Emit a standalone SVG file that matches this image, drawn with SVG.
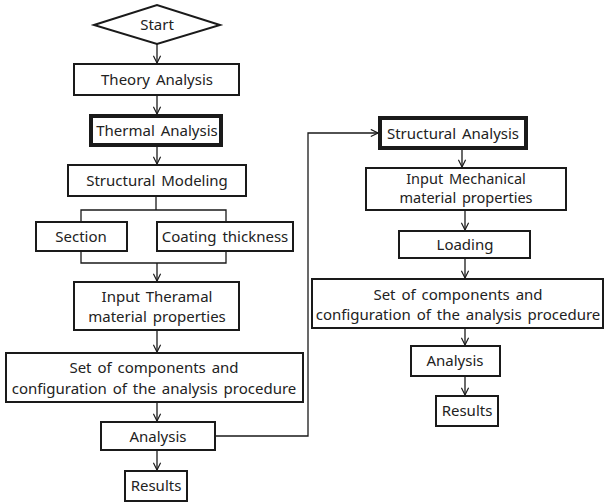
<svg xmlns="http://www.w3.org/2000/svg" width="605" height="502" viewBox="0 0 605 502">
<style>
.b{fill:#fff;stroke:#1a1a1a;stroke-width:2}
.t{fill:#fff;stroke:#1a1a1a;stroke-width:4}
text{font-family:"Noto Sans","Open Sans",sans-serif;font-size:15px;fill:#222;text-anchor:middle;word-spacing:2px}
.s{font-size:14.5px}
.c{fill:none;stroke:#1a1a1a;stroke-width:1.3}
</style>
<defs>
<marker id="a" viewBox="0 0 10 10" refX="9" refY="5" markerWidth="9" markerHeight="9" markerUnits="userSpaceOnUse" orient="auto">
<path d="M1,1 L9,5 L1,9" fill="none" stroke="#1a1a1a" stroke-width="1.3"/>
</marker>
</defs>
<rect width="605" height="502" fill="#fff"/>
<g id="connectors">
<path class="c" d="M157,44 V63" marker-end="url(#a)"/>
<path class="c" d="M157,95 V114" marker-end="url(#a)"/>
<path class="c" d="M157,146 V164" marker-end="url(#a)"/>
<path class="c" d="M156,196 V210 M81,222 V210 H226 V222 M81,251 V263 H226 V251"/>
<path class="c" d="M157,263 V281" marker-end="url(#a)"/>
<path class="c" d="M157,330 V352" marker-end="url(#a)"/>
<path class="c" d="M157,402 V421" marker-end="url(#a)"/>
<path class="c" d="M157,450 V470" marker-end="url(#a)"/>
<path class="c" d="M215,436 H308 V133 H378" marker-end="url(#a)"/>
<path class="c" d="M462,149 V167" marker-end="url(#a)"/>
<path class="c" d="M465,210 V230" marker-end="url(#a)"/>
<path class="c" d="M465,258 V278" marker-end="url(#a)"/>
<path class="c" d="M465,328 V345" marker-end="url(#a)"/>
<path class="c" d="M465,376 V395" marker-end="url(#a)"/>
</g>
<g id="start"><polygon class="b" points="94,25 157,5 220,25 157,44"/><text x="157" y="30">Start</text></g>
<g id="theory"><rect class="b" x="74" y="64" width="165" height="31"/><text x="157" y="85">Theory Analysis</text></g>
<g id="thermal"><rect class="t" x="91" y="116" width="130" height="29"/><text x="157" y="136">Thermal Analysis</text></g>
<g id="modeling"><rect class="b" x="68" y="165" width="178" height="31"/><text x="157" y="186">Structural Modeling</text></g>
<g id="section"><rect class="b" x="36" y="222" width="91" height="29"/><text x="81" y="242">Section</text></g>
<g id="coating"><rect class="b" x="157" y="222" width="136" height="29"/><text x="225" y="242">Coating thickness</text></g>
<g id="input-thermal"><rect class="b" x="74" y="282" width="165" height="48"/><text x="157" y="302">Input Theramal</text><text x="157" y="322">material properties</text></g>
<g id="set-left"><rect class="b" x="6" y="353" width="297" height="49"/><text x="154" y="373">Set of components and</text><text x="154" y="394">configuration of the analysis procedure</text></g>
<g id="analysis-left"><rect class="b" x="101" y="422" width="114" height="28"/><text x="158" y="442">Analysis</text></g>
<g id="results-left"><rect class="b" x="125" y="471" width="62" height="30"/><text x="156" y="491">Results</text></g>
<g id="structural"><rect class="t" x="380" y="118" width="146" height="30"/><text x="453" y="139">Structural Analysis</text></g>
<g id="input-mech"><rect class="b" x="366" y="168" width="200" height="42"/><text class="s" x="466" y="184">Input Mechanical</text><text class="s" x="466" y="203">material properties</text></g>
<g id="loading"><rect class="b" x="399" y="231" width="131" height="27"/><text x="465" y="250">Loading</text></g>
<g id="set-right"><rect class="b" x="312" y="279" width="291" height="49"/><text x="458" y="300">Set of components and</text><text x="458" y="320">configuration of the analysis procedure</text></g>
<g id="analysis-right"><rect class="b" x="411" y="346" width="89" height="30"/><text x="455" y="366">Analysis</text></g>
<g id="results-right"><rect class="b" x="436" y="396" width="62" height="30"/><text x="467" y="416">Results</text></g>
</svg>
